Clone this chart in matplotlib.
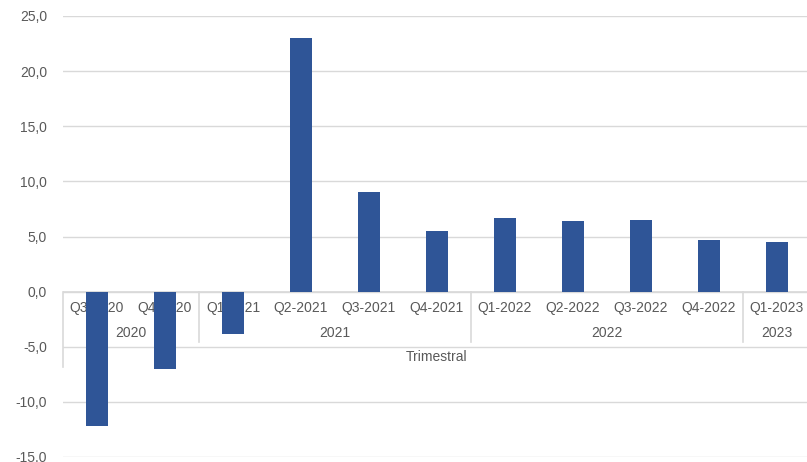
import matplotlib
matplotlib.use("Agg")
import matplotlib.pyplot as plt

categories = ["Q3-2020", "Q4-2020", "Q1-2021", "Q2-2021", "Q3-2021", "Q4-2021",
              "Q1-2022", "Q2-2022", "Q3-2022", "Q4-2022", "Q1-2023"]
values = [-12.2, -7.0, -3.8, 23.0, 9.0, 5.5, 6.7, 6.4, 6.5, 4.7, 4.5]
years = ["2020", "2021", "2022", "2023"]
year_counts = [2, 4, 4, 1]
axis_title = "Trimestral"
yticks = [-15, -10, -5, 0, 5, 10, 15, 20, 25]

plt.rcParams['font.family'] = ['Liberation Sans', 'DejaVu Sans']
W, H = 807, 462
fig = plt.figure(figsize=(W / 100, H / 100), dpi=100)
left, right, top, bottom = 63, 811, 16, 457
ax = fig.add_axes([left / W, (H - bottom) / H, (right - left) / W, (bottom - top) / H])

text_color = "#595959"
grid_color = "#D9D9D9"
bar_color = "#2F5597"

x = list(range(len(categories)))
ax.bar(x, values, width=0.32, color=bar_color, zorder=3)
ax.set_xlim(-0.5, len(categories) - 0.5)
ax.set_ylim(-15, 25)
ax.set_yticks(yticks)
ax.set_yticklabels([f"{v:.1f}".replace(".", ",") for v in yticks], color=text_color, fontsize=10)
ax.tick_params(axis='y', length=0, pad=11.5)
ax.set_xticks([])
for s in ax.spines.values():
    s.set_visible(False)
ax.grid(axis='y', color=grid_color, linewidth=1, zorder=0)
ax.axhline(0, color=grid_color, linewidth=1.2, zorder=1)

# category labels
for i, c in enumerate(categories):
    ax.text(i, -1.48, c, ha='center', va='center', fontsize=10, color=text_color, zorder=2)

# year labels and separators
start = 0
for y, n in zip(years, year_counts):
    center = start + (n - 1) / 2
    ax.text(center, -3.74, y, ha='center', va='center', fontsize=10, color=text_color, zorder=2)
    if start > 0:
        ax.plot([start - 0.5, start - 0.5], [0, -4.56], color=grid_color, linewidth=1.2, zorder=1, clip_on=False)
    start += n
ax.plot([-0.5, -0.5], [0, -6.8], color=grid_color, linewidth=1.2, zorder=1, clip_on=False)
ax.text((len(categories) - 1) / 2, -5.92, axis_title, ha='center', va='center', fontsize=10, color=text_color, zorder=2)

fig.savefig("out.png", dpi=100)
